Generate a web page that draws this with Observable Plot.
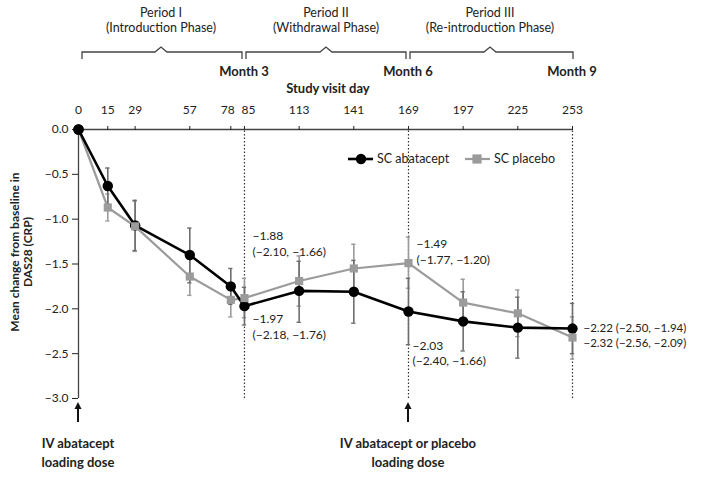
<!DOCTYPE html>
<html><head><meta charset="utf-8">
<script src="https://cdn.jsdelivr.net/npm/d3@7"></script>
<script src="https://cdn.jsdelivr.net/npm/@observablehq/plot@0.6"></script>
<style>
body{margin:0;background:#fff}
#chart svg{font-family:Lato,"Open Sans",sans-serif;overflow:visible}
</style>
</head><body><div id="chart"></div>
<script>
const days = [0, 15, 29, 57, 78, 85, 113, 141, 169, 197, 225, 253];
const abataceptMean = [0, -0.63, -1.07, -1.40, -1.75, -1.97, -1.80, -1.81, -2.03, -2.14, -2.21, -2.22];
const abataceptLow  = [0, -0.83, -1.35, -1.71, -1.95, -2.18, -2.15, -2.16, -2.40, -2.47, -2.55, -2.50];
const abataceptHigh = [0, -0.43, -0.79, -1.10, -1.55, -1.76, -1.47, -1.46, -1.66, -1.81, -1.87, -1.94];
const placeboMean = [0, -0.87, -1.08, -1.64, -1.90, -1.88, -1.69, -1.55, -1.49, -1.93, -2.05, -2.32];
const placeboLow  = [0, -1.02, -1.36, -1.85, -2.09, -2.10, -1.97, -1.82, -1.77, -2.19, -2.31, -2.56];
const placeboHigh = [0, -0.72, -0.80, -1.43, -1.71, -1.66, -1.41, -1.28, -1.20, -1.67, -1.79, -2.09];
const yTicks = [0, -0.5, -1, -1.5, -2, -2.5, -3];
const monthDays = [85, 169, 253];
const monthLabels = ["Month 3", "Month 6", "Month 9"];
const periodStart = [0, 85, 169];
const periodEnd = [85, 169, 253];
const periodNames = ["Period I", "Period II", "Period III"];
const periodPhases = ["(Introduction Phase)", "(Withdrawal Phase)", "(Re-introduction Phase)"];
const doseDays = [0, 169];
const doseLabels = [["IV abatacept", "loading dose"], ["IV abatacept or placebo", "loading dose"]];
const seriesNames = ["SC abatacept", "SC placebo"];
const xTitle = "Study visit day";
const yTitle = "Mean change from baseline in\nDAS28 (CRP)";

const fmt = d3.format(".2f");
const abatacept = days.map((d, i) => ({day: d, mean: abataceptMean[i], low: abataceptLow[i], high: abataceptHigh[i]}));
const placebo = days.map((d, i) => ({day: d, mean: placeboMean[i], low: placeboLow[i], high: placeboHigh[i]}));
const twoLine = r => `${fmt(r.mean)}\n(${fmt(r.low)}, ${fmt(r.high)})`;
const oneLine = r => `${fmt(r.mean)} (${fmt(r.low)}, ${fmt(r.high)})`;
const at = (arr, day) => arr.filter(r => r.day === day);

const GREY = "#9b9b9b";
const INK = "#222";
const annotStyle = {fontSize: 12, fill: INK, textAnchor: "start", lineHeight: 1.3};
const tickText = {y: 0, text: d => String(d), dy: -19, fontSize: 12, fill: INK};

const chart = Plot.plot({
  width: 704, height: 477,
  marginLeft: 78, marginRight: 132, marginTop: 129, marginBottom: 79,
  x: {domain: [0, 253]},
  y: {domain: [-3, 0]},
  style: {fontFamily: "Lato, 'Open Sans', sans-serif", color: INK, background: "#fff"},
  marks: [
    Plot.ruleX(monthDays, {y1: -3, y2: 0, stroke: "#333", strokeWidth: 1.2, strokeDasharray: "1.5,2"}),
    Plot.ruleY([0], {stroke: "#444", strokeWidth: 1.3}),
    Plot.ruleX([0], {y1: -3, y2: 0, stroke: "#444", strokeWidth: 1.3}),
    Plot.axisX({anchor: "top", ticks: days, tickSize: 4, tickFormat: () => "", label: null}),
    Plot.text(days.filter(d => d !== 78 && d !== 85), {x: d => d, ...tickText}),
    Plot.text([78], {x: d => d, ...tickText, dx: -3}),
    Plot.text([85], {x: d => d, ...tickText, dx: 4}),
    Plot.axisY({ticks: yTicks, tickSize: 6, tickPadding: 4, fontSize: 12, label: null, tickFormat: d3.format(".1f")}),
    // error bars
    Plot.ruleX(placebo.slice(1), {x: "day", y1: "low", y2: "high", stroke: GREY, strokeWidth: 1.6}),
    Plot.ruleY(placebo.slice(1), {y: "low", x1: d => d.day - 1.1, x2: d => d.day + 1.1, stroke: GREY, strokeWidth: 1.4}),
    Plot.ruleY(placebo.slice(1), {y: "high", x1: d => d.day - 1.1, x2: d => d.day + 1.1, stroke: GREY, strokeWidth: 1.4}),
    Plot.ruleX(abatacept.slice(1), {x: "day", y1: "low", y2: "high", stroke: "#6e6e6e", strokeWidth: 1.6}),
    Plot.ruleY(abatacept.slice(1), {y: "low", x1: d => d.day - 1.1, x2: d => d.day + 1.1, stroke: "#6e6e6e", strokeWidth: 1.4}),
    Plot.ruleY(abatacept.slice(1), {y: "high", x1: d => d.day - 1.1, x2: d => d.day + 1.1, stroke: "#6e6e6e", strokeWidth: 1.4}),
    // lines
    Plot.line(placebo, {x: "day", y: "mean", stroke: GREY, strokeWidth: 2.2}),
    Plot.line(abatacept, {x: "day", y: "mean", stroke: "#000", strokeWidth: 2.6}),
    Plot.dot(abatacept, {x: "day", y: "mean", r: 5.2, fill: "#000"}),
    Plot.dot(placebo.slice(1), {x: "day", y: "mean", symbol: "square", r: 4.6, fill: GREY}),
    Plot.dot(at(abatacept, 0), {x: "day", y: "mean", r: 5.2, fill: "#000"}),
    // annotations
    Plot.text(at(placebo, 85), {x: "day", y: "mean", text: twoLine, dx: 8, dy: -55, ...annotStyle}),
    Plot.text(at(abatacept, 85), {x: "day", y: "mean", text: twoLine, dx: 8, dy: 20, ...annotStyle}),
    Plot.text(at(placebo, 169), {x: "day", y: "mean", text: twoLine, dx: 8, dy: -12, ...annotStyle}),
    Plot.text(at(abatacept, 169), {x: "day", y: "mean", text: twoLine, dx: 4, dy: 41, ...annotStyle}),
    Plot.text(at(abatacept, 253), {x: "day", y: "mean", text: oneLine, dx: 11, dy: -1, ...annotStyle, fontSize: 11.5}),
    Plot.text(at(placebo, 253), {x: "day", y: "mean", text: oneLine, dx: 11, dy: 5, ...annotStyle, fontSize: 11.5}),
    // y title
    Plot.text([yTitle], {frameAnchor: "left", text: d => d, rotate: -90, textAnchor: "middle", dx: -57, dy: -12, fontSize: 12, fontWeight: "bold", fill: INK, lineHeight: 1.1})
  ]
});

const svg = d3.select(chart);
const xs = chart.scale("x"), ys = chart.scale("y");
const X = v => xs.apply(v), Y = v => ys.apply(v);
const y0 = Y(0);

function label(x, y, t, size, bold, anchor) {
  return svg.append("text").attr("x", x).attr("y", y).attr("dy", "0.35em")
    .attr("text-anchor", anchor || "middle").attr("font-size", size)
    .attr("font-weight", bold ? "bold" : "normal").attr("fill", INK).text(t);
}

// x title
label(X(128), y0 - 41, xTitle, 13, true);
// month labels
monthDays.forEach((d, i) => label(X(d), y0 - 58, monthLabels[i], 13, true));
// braces and period labels
periodStart.forEach((s, i) => {
  const a = X(s) + (i === 0 ? 4 : 2), b = X(periodEnd[i]) - (i === 2 ? -1 : 2);
  const m = (X(s) + X(periodEnd[i])) / 2;
  const yb = y0 - 77;
  svg.append("path")
    .attr("d", `M${a},${yb + 7}V${yb}H${m - 6}L${m},${yb - 5}L${m + 6},${yb}H${b}V${yb + 7}`)
    .attr("fill", "none").attr("stroke", "#444").attr("stroke-width", 1.3);
  label(m, 13, periodNames[i], 12.5, false);
  label(m, 28, periodPhases[i], 12.5, false);
});
// arrows + dose labels
const yBottom = Y(-3);
doseDays.forEach((d, i) => {
  const x = X(d);
  svg.append("line").attr("x1", x).attr("x2", x).attr("y1", yBottom + 24).attr("y2", yBottom + 10)
    .attr("stroke", "#111").attr("stroke-width", 2);
  svg.append("path").attr("d", `M${x - 3.5},${yBottom + 11}L${x},${yBottom + 4}L${x + 3.5},${yBottom + 11}Z`).attr("fill", "#111");
  doseLabels[i].forEach((t, j) => label(x, yBottom + 45 + j * 19, t, 13, true));
});
// legend
const ly = 159;
const lg = svg.append("g");
lg.append("line").attr("x1", 348).attr("x2", 373).attr("y1", ly).attr("y2", ly).attr("stroke", "#000").attr("stroke-width", 2.6);
lg.append("circle").attr("cx", 361).attr("cy", ly).attr("r", 5.2).attr("fill", "#000");
label(377, ly, seriesNames[0], 12.5, false, "start");
lg.append("line").attr("x1", 465).attr("x2", 490).attr("y1", ly).attr("y2", ly).attr("stroke", GREY).attr("stroke-width", 2.2);
lg.append("rect").attr("x", 477 - 4.6).attr("y", ly - 4.6).attr("width", 9.2).attr("height", 9.2).attr("fill", GREY);
label(494, ly, seriesNames[1], 12.5, false, "start");

document.getElementById("chart").appendChild(chart);
</script>
</body></html>
